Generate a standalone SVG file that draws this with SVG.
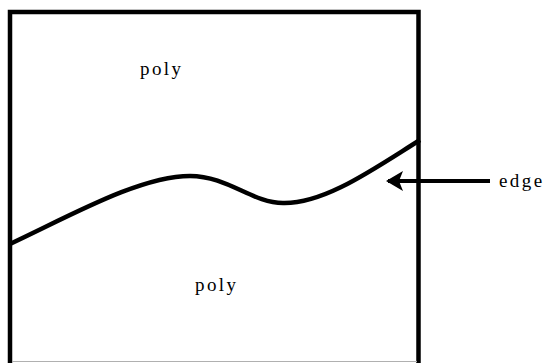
<svg xmlns="http://www.w3.org/2000/svg" width="546" height="363" viewBox="0 0 546 363">
<style>
  .line { fill: none; stroke: #000; stroke-width: 4.5; }
  .lbl { font-family: "Liberation Serif", "Times New Roman", serif; font-size: 19px; letter-spacing: 2.4px; fill: #000; }
</style>
<defs>
  <marker id="head" markerUnits="userSpaceOnUse" markerWidth="20" markerHeight="24" refX="18" refY="12" orient="auto" viewBox="0 0 20 24">
    <path d="M20,12 L3,2 L7,12 L3,22 Z" fill="#000"/>
  </marker>
</defs>
<rect width="546" height="363" fill="#fff"/>
<g id="box">
  <path class="line" d="M10,365 V12 H418.5 V365"/>
  <line x1="12" y1="361.5" x2="417" y2="361.5" stroke="#b0b0b0" stroke-width="1"/>
</g>
<g id="edge-curve">
  <path class="line" d="M10,244 C70,216 140,176 190,176 C228,176 252,203 283,203 C325,204 375,168 420,140" stroke-width="4"/>
</g>
<g id="label-poly-top"><text class="lbl" x="140" y="75">poly</text></g>
<g id="label-poly-bottom"><text class="lbl" x="195" y="291">poly</text></g>
<g id="label-edge"><text class="lbl" x="499" y="187" letter-spacing="2.6">edge</text></g>
<g id="connectors">
  <line x1="490" y1="181" x2="388" y2="181" stroke="#000" stroke-width="4" marker-end="url(#head)"/>
</g>
</svg>
